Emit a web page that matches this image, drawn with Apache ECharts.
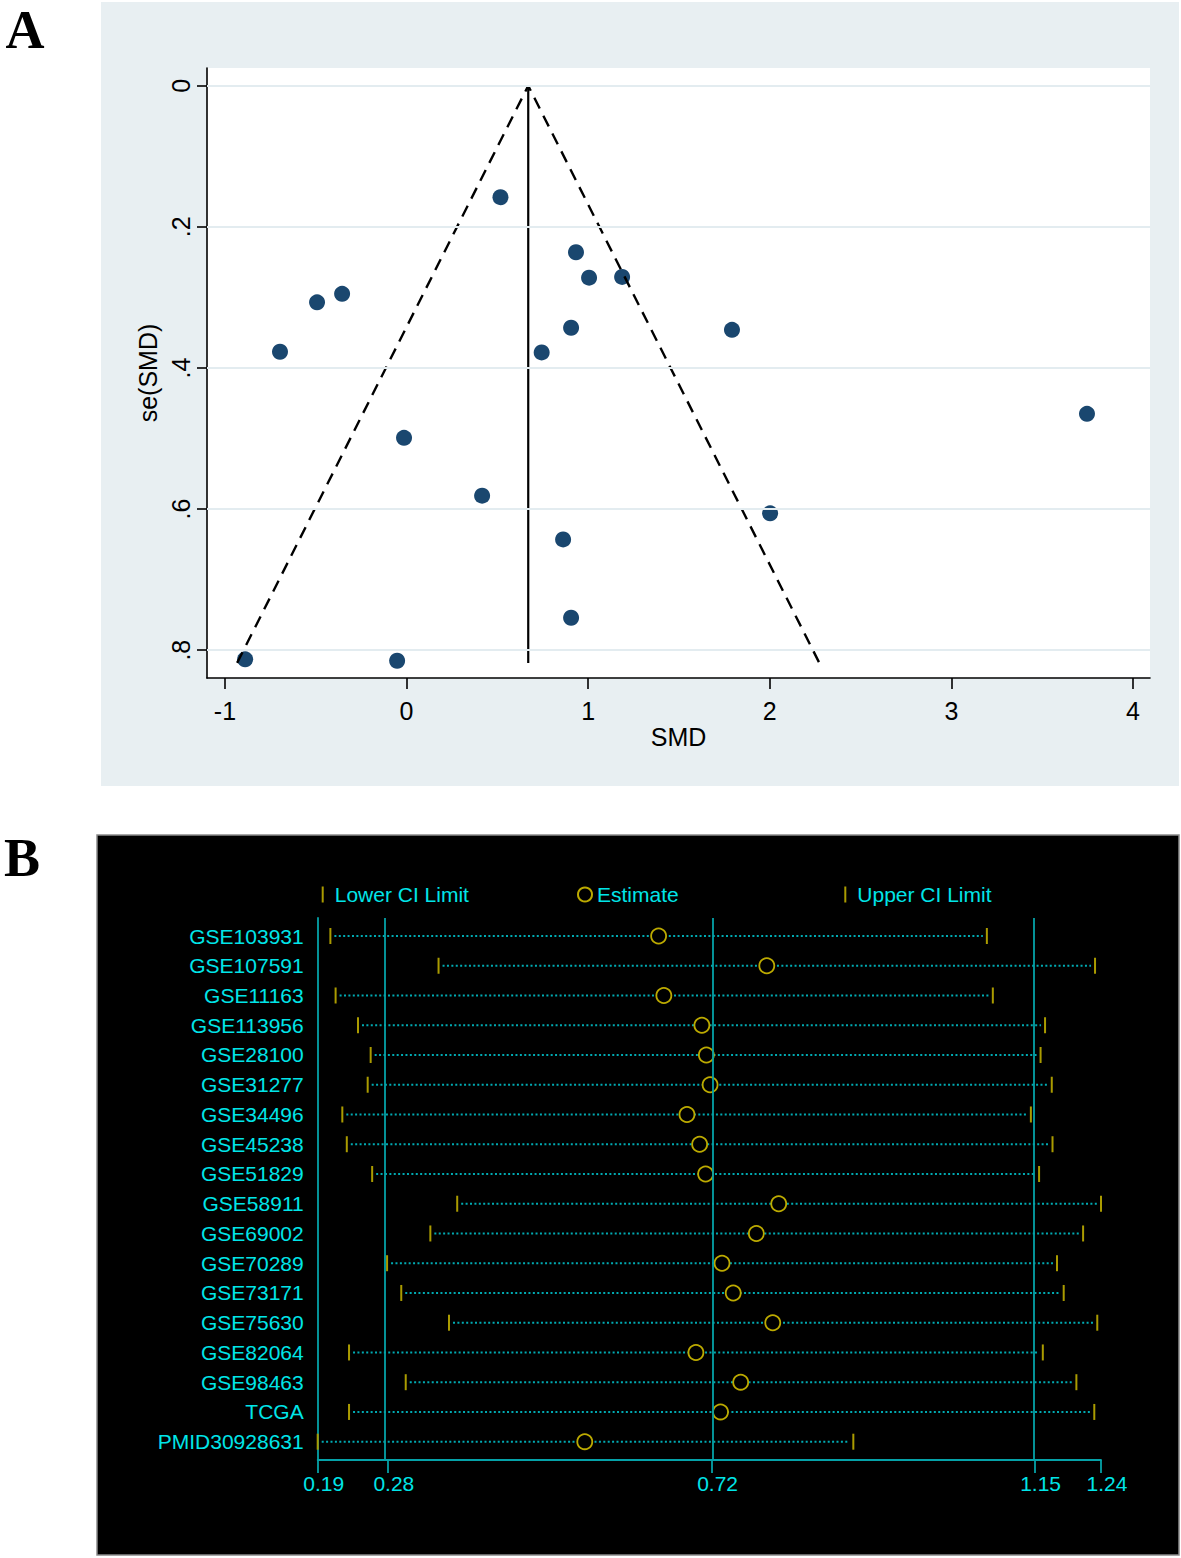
<!DOCTYPE html>
<html>
<head>
<meta charset="utf-8">
<script src="https://cdn.jsdelivr.net/npm/echarts@6/dist/echarts.min.js"></script>
<style>
html,body{margin:0;padding:0;background:#fff;}
#chart{width:1181px;height:1558px;}
</style>
</head>
<body>
<div id="chart"></div>
<script>
// ---------- Panel A: funnel plot ----------
const smd    = [0.517, 0.933, 1.005, 1.187, -0.355, -0.493, 0.906, 1.792, -0.697, 0.744, 3.747, -0.014, 0.416, 2.002, 0.862, 0.906, -0.889, -0.052];
const seSmd  = [0.158, 0.236, 0.272, 0.271, 0.295, 0.307, 0.343, 0.346, 0.377, 0.378, 0.465, 0.499, 0.581, 0.606, 0.643, 0.754, 0.813, 0.815];
const pooledSmd = 0.67;
const funnelSeMax = 0.818;
const funnelLeftX = -0.933;
const funnelRightX = 2.273;
const xTicksA = [-1, 0, 1, 2, 3, 4];
const yTicksA = [0, 0.2, 0.4, 0.6, 0.8];

// ---------- Panel B: sensitivity analysis ----------
const studies = ['GSE103931','GSE107591','GSE11163','GSE113956','GSE28100','GSE31277','GSE34496','GSE45238','GSE51829','GSE58911','GSE69002','GSE70289','GSE73171','GSE75630','GSE82064','GSE98463','TCGA','PMID30928631'];
const lowerCI  = [0.207, 0.352, 0.214, 0.244, 0.261, 0.257, 0.223, 0.229, 0.263, 0.377, 0.341, 0.283, 0.302, 0.366, 0.232, 0.308, 0.232, 0.190];
const estimate = [0.647, 0.792, 0.654, 0.705, 0.711, 0.716, 0.685, 0.702, 0.710, 0.808, 0.778, 0.732, 0.747, 0.800, 0.697, 0.757, 0.730, 0.548];
const upperCI  = [1.087, 1.232, 1.095, 1.165, 1.159, 1.174, 1.146, 1.175, 1.157, 1.240, 1.216, 1.181, 1.190, 1.235, 1.162, 1.207, 1.231, 0.908];
const refLines = [0.284, 0.718, 1.151];
const xTicksB  = [0.19, 0.284, 0.718, 1.151, 1.24];

const SANS = '"Liberation Sans", Arial, sans-serif';
const CYAN = '#00e5e8';
const TEAL = '#05a2a8';
const DOT = '#00aab2';
const OLIVE = '#aa9b00';
const YEL = '#bcaa00';

const chart = echarts.init(document.getElementById('chart'), null, {renderer: 'svg'});

const scatterA = smd.map((v, i) => [v, seSmd[i]]);
const dashData = [[funnelLeftX, funnelSeMax], [pooledSmd, 0], [funnelRightX, funnelSeMax]];
const vertData = [[pooledSmd, 0], [pooledSmd, funnelSeMax]];
const rowsIdx = studies.map((s, i) => i);

const option = {
  animation: false,
  backgroundColor: '#ffffff',
  graphic: [
    {type: 'rect', z: -10, shape: {x: 101, y: 2, width: 1078, height: 784}, style: {fill: '#e8eff2'}, silent: true},
    {type: 'rect', z: -10, shape: {x: 97, y: 835, width: 1082, height: 720}, style: {fill: '#000000', stroke: '#8a8a8a', lineWidth: 1.5}, silent: true},
    {type: 'text', x: 25, y: 30, style: {text: 'A', font: 'bold 54px "Liberation Serif", "Times New Roman", serif', fill: '#000', align: 'center', verticalAlign: 'middle'}},
    {type: 'text', x: 22, y: 858, style: {text: 'B', font: 'bold 54px "Liberation Serif", "Times New Roman", serif', fill: '#000', align: 'center', verticalAlign: 'middle'}}
  ],
  grid: [
    {left: 207, top: 68, width: 943, height: 610, show: true, backgroundColor: '#ffffff', borderWidth: 0, containLabel: false, outerBoundsMode: 'none'},
    {left: 317.7, top: 918, width: 783.3, height: 542, show: false, containLabel: false, outerBoundsMode: 'none'},
    {left: 317.7, top: 936, width: 783.3, height: 505.7, show: false, containLabel: false, outerBoundsMode: 'none'}
  ],
  xAxis: [
    {
      gridIndex: 0, type: 'value', min: -1.099, max: 4.094,
      name: 'SMD', nameLocation: 'middle', nameGap: 46,
      nameTextStyle: {fontFamily: SANS, fontSize: 25, color: '#000'},
      axisLine: {show: true, onZero: false, lineStyle: {color: '#000', width: 1.6}},
      axisTick: {show: true, length: 11, customValues: xTicksA, lineStyle: {color: '#000', width: 1.6}},
      axisLabel: {show: true, customValues: xTicksA, margin: 20, fontFamily: SANS, fontSize: 25, color: '#000'},
      splitLine: {show: false}
    },
    {
      gridIndex: 1, type: 'value', min: 0.19, max: 1.24,
      axisLine: {show: true, onZero: false, lineStyle: {color: TEAL, width: 1.8}},
      axisTick: {show: true, length: 13, customValues: xTicksB, lineStyle: {color: TEAL, width: 1.8}},
      axisLabel: {show: true, customValues: xTicksB, margin: 13, padding: [0, 0, 0, 12], fontFamily: SANS, fontSize: 21, color: CYAN,
        formatter: v => Number(v).toFixed(2)},
      splitLine: {show: false}
    },
    {
      gridIndex: 2, type: 'value', min: 0.19, max: 1.24, show: false,
      splitLine: {show: false}
    }
  ],
  yAxis: [
    {
      gridIndex: 0, type: 'value', inverse: true, min: -0.0251, max: 0.8394,
      name: 'se(SMD)', nameLocation: 'middle', nameGap: 44, nameRotate: 90,
      nameTextStyle: {fontFamily: SANS, fontSize: 25, color: '#000'},
      axisLine: {show: true, onZero: false, lineStyle: {color: '#000', width: 1.6}},
      axisTick: {show: true, length: 10, customValues: yTicksA, lineStyle: {color: '#000', width: 1.6}},
      axisLabel: {show: true, customValues: yTicksA, rotate: 90, margin: 14, fontFamily: SANS, fontSize: 25, color: '#000',
        formatter: v => (v === 0 ? '0' : '.' + Math.round(v * 10))},
      splitLine: {show: false}
    },
    {
      gridIndex: 1, type: 'value', min: 0, max: 1,
      axisLine: {show: true, onZero: false, lineStyle: {color: TEAL, width: 1.8}},
      axisTick: {show: false}, axisLabel: {show: false}, splitLine: {show: false}
    },
    {
      gridIndex: 2, type: 'category', data: studies, inverse: true, boundaryGap: false,
      axisLine: {show: false}, axisTick: {show: false}, splitLine: {show: false},
      axisLabel: {show: true, interval: 0, margin: 14, fontFamily: SANS, fontSize: 21, color: CYAN}
    }
  ],
  legend: [
    {left: 321.7, top: 884, padding: 0, icon: 'rect', itemWidth: 2, itemHeight: 16, data: ['Lower CI Limit'],
      textStyle: {color: CYAN, fontFamily: SANS, fontSize: 21, padding: [0, 0, 0, 6]}},
    {left: 577, top: 884, padding: 0, icon: 'circle', itemWidth: 14, itemHeight: 14, data: ['Estimate'],
      textStyle: {color: CYAN, fontFamily: SANS, fontSize: 21}},
    {left: 844.3, top: 884, padding: 0, icon: 'rect', itemWidth: 2, itemHeight: 16, data: ['Upper CI Limit'],
      textStyle: {color: CYAN, fontFamily: SANS, fontSize: 21, padding: [0, 0, 0, 6]}}
  ],
  series: [
    // Panel A gridlines
    {
      type: 'line', xAxisIndex: 0, yAxisIndex: 0, data: [], silent: true, z: 1,
      markLine: {silent: true, symbol: ['none', 'none'], label: {show: false},
        lineStyle: {color: '#e3ecf0', width: 2, type: 'solid'},
        data: yTicksA.map(v => ({yAxis: v}))}
    },
    {
      name: 'Studies', type: 'scatter', xAxisIndex: 0, yAxisIndex: 0, data: scatterA,
      symbol: 'circle', symbolSize: 16, itemStyle: {color: '#1a476f', opacity: 1}, z: 3
    },
    {
      name: 'Pseudo 95% CI', type: 'line', xAxisIndex: 0, yAxisIndex: 0, data: dashData,
      showSymbol: false, symbol: 'none', lineStyle: {color: '#000', width: 2.4, type: [12, 8]}, z: 4
    },
    {
      name: 'Pooled', type: 'line', xAxisIndex: 0, yAxisIndex: 0, data: vertData,
      showSymbol: false, symbol: 'none', lineStyle: {color: '#000', width: 2.2, type: 'solid'}, z: 4
    },
    // Panel B reference lines
    {
      type: 'line', xAxisIndex: 1, yAxisIndex: 1, data: [], silent: true, z: 1,
      markLine: {silent: true, symbol: ['none', 'none'], label: {show: false},
        lineStyle: {color: TEAL, width: 1.8, type: 'solid'},
        data: refLines.map(v => ({xAxis: v}))}
    },
    // Panel B dotted CI ranges
    {
      type: 'custom', xAxisIndex: 2, yAxisIndex: 2, z: 2, silent: true,
      data: rowsIdx.map(i => [lowerCI[i], upperCI[i], i]),
      encode: {x: [0, 1], y: 2},
      renderItem: function (params, api) {
        const p1 = api.coord([api.value(0), api.value(2)]);
        const p2 = api.coord([api.value(1), api.value(2)]);
        return {type: 'line', shape: {x1: p1[0] + 4, y1: p1[1], x2: p2[0] - 4, y2: p2[1]},
          style: {stroke: DOT, lineWidth: 2, lineDash: [2, 2.4]}};
      }
    },
    {
      name: 'Lower CI Limit', type: 'scatter', xAxisIndex: 2, yAxisIndex: 2, z: 3,
      data: rowsIdx.map(i => [lowerCI[i], i]), symbol: 'rect', symbolSize: [2, 16],
      itemStyle: {color: OLIVE, opacity: 1}
    },
    {
      name: 'Upper CI Limit', type: 'scatter', xAxisIndex: 2, yAxisIndex: 2, z: 3,
      data: rowsIdx.map(i => [upperCI[i], i]), symbol: 'rect', symbolSize: [2, 16],
      itemStyle: {color: OLIVE, opacity: 1}
    },
    {
      name: 'Estimate', type: 'scatter', xAxisIndex: 2, yAxisIndex: 2, z: 4,
      data: rowsIdx.map(i => [estimate[i], i]), symbol: 'circle', symbolSize: 15,
      itemStyle: {color: '#000', borderColor: YEL, borderWidth: 1.8, opacity: 1}
    }
  ]
};
chart.setOption(option);
</script>
</body>
</html>
